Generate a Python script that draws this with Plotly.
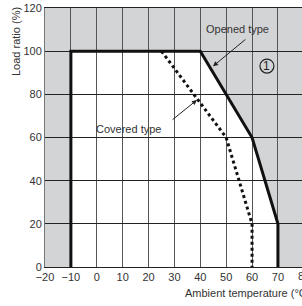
import plotly.graph_objects as go

# Data
opened_temp = [-10, -10, 40, 50, 60, 70, 70]
opened_load = [0, 100, 100, 80, 60, 20, 0]
covered_temp = [25, 50, 60, 60]
covered_load = [100, 60, 20, 0]
x_ticks = [-20, -10, 0, 10, 20, 30, 40, 50, 60, 70]
y_ticks = [0, 20, 40, 60, 80, 100, 120]

GRAY = "#d3d4d6"
FONT = "Liberation Sans, Arial, sans-serif"

fig = go.Figure()

# White (allowed) region as a shape below gridlines
path = "M " + " L ".join(f"{x},{y}" for x, y in zip(opened_temp, opened_load)) + " Z"
shapes = [dict(type="path", path=path, xref="x", yref="y", fillcolor="white",
               line=dict(width=0), layer="below"),
          dict(type="circle", xref="x", yref="y", x0=65.75 - 2.7, x1=65.75 + 2.7,
               y0=93.1 - 3.25, y1=93.1 + 3.25, line=dict(color="#222", width=1.2),
               fillcolor="rgba(0,0,0,0)", layer="above")]

fig.add_trace(go.Scatter(x=covered_temp, y=covered_load, mode="lines",
                         line=dict(color="#111", width=3, dash="dot"),
                         hoverinfo="skip", showlegend=False))
fig.add_trace(go.Scatter(x=opened_temp, y=opened_load, mode="lines",
                         line=dict(color="#111", width=3),
                         hoverinfo="skip", showlegend=False))

annotations = [
    dict(x=54.5, y=110.3, xref="x", yref="y", text="Opened type", showarrow=False,
         font=dict(size=11, color="#333", family=FONT)),
    dict(x=44.9, y=93, xref="x", yref="y", ax=58, ay=106, axref="x", ayref="y",
         text="", showarrow=True, arrowhead=2, arrowsize=1, arrowwidth=1, arrowcolor="#222"),
    dict(x=12.1, y=63.9, xref="x", yref="y", text="Covered type", showarrow=False,
         font=dict(size=11, color="#333", family=FONT)),
    dict(x=38.7, y=77.4, xref="x", yref="y", ax=28.7, ay=67.7, axref="x", ayref="y",
         text="", showarrow=True, arrowhead=2, arrowsize=1, arrowwidth=1, arrowcolor="#222"),
    dict(x=65.75, y=93.1, xref="x", yref="y", text="1", showarrow=False,
         font=dict(size=12, color="#222", family=FONT)),
    dict(x=(304 - 45) / 257, y=(267 - 276) / 259, xref="paper", yref="paper", text="80",
         showarrow=False, xanchor="center", yanchor="middle",
         font=dict(size=11, color="#333", family=FONT)),
    dict(x=(183 - 45) / 257, y=(267 - 293) / 259, xref="paper", yref="paper",
         xanchor="left", yanchor="middle",
         text="Ambient temperature (°C)", showarrow=False,
         font=dict(size=11, color="#333", family=FONT)),
    dict(x=(16 - 45) / 257, y=(267 - 42) / 259, xref="paper", yref="paper",
         xanchor="center", yanchor="middle",
         text="Load ratio (%)", textangle=-90, showarrow=False,
         font=dict(size=11, color="#333", family=FONT)),
]

fig.update_layout(
    width=302, height=306,
    margin=dict(l=45, r=0, t=8, b=39),
    paper_bgcolor="white", plot_bgcolor=GRAY,
    shapes=shapes, annotations=annotations,
    font=dict(family=FONT, size=11, color="#333"),
    xaxis=dict(range=[-20, 79.3], tickvals=x_ticks, showgrid=True, gridcolor="#555",
               gridwidth=1, zeroline=False, showline=True, linecolor="#222",
               linewidth=1, mirror=True, ticks="", tickfont=dict(size=11, color="#333"),
               fixedrange=True),
    yaxis=dict(range=[0, 120], tickvals=y_ticks, showgrid=True, gridcolor="#222",
               gridwidth=1, zeroline=False, showline=True, linecolor="#777",
               linewidth=1, ticks="", tickfont=dict(size=11, color="#333"),
               fixedrange=True),
    showlegend=False,
)

fig.write_html("out.html", config={"displayModeBar": False},
               post_script="document.body.style.margin='0';document.body.style.overflow='hidden';")
